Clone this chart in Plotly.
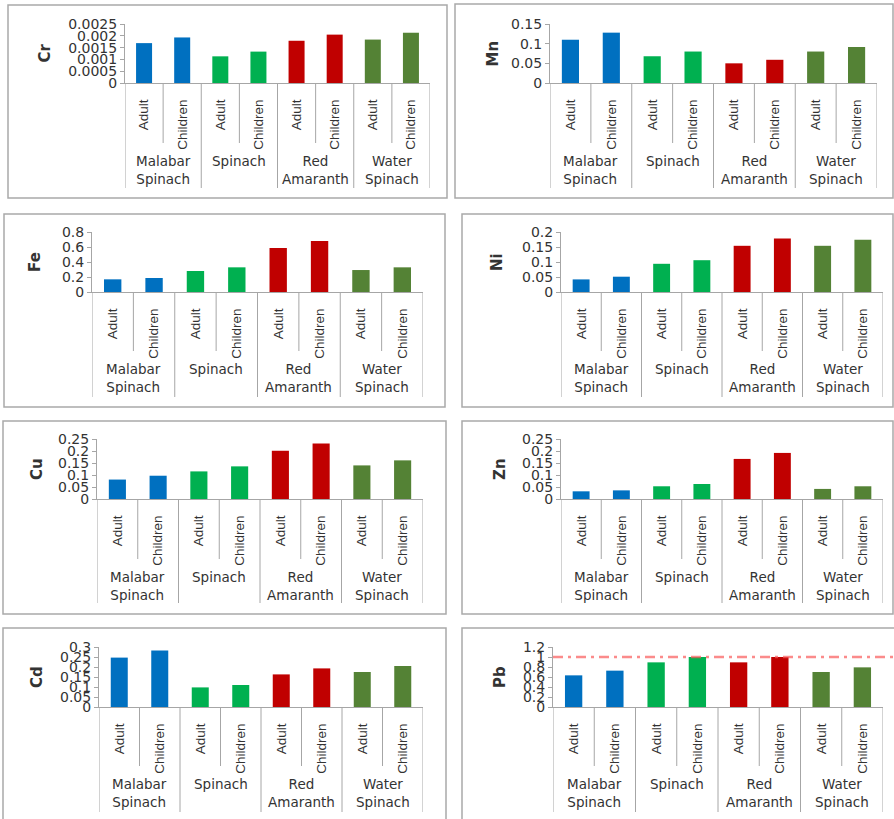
import plotly.graph_objects as go

W, H = 894, 819

# ---- data -------------------------------------------------------------
groups = ["Malabar Spinach", "Spinach", "Red Amaranth", "Water Spinach"]
group_text = ["Malabar<br>Spinach", "Spinach", "Red<br>Amaranth", "Water<br>Spinach"]
ages = ["Adult", "Children"]
group_colors = ["#0070C0", "#00B050", "#C00000", "#548235"]

metals = ["Cr", "Mn", "Fe", "Ni", "Cu", "Zn", "Cd", "Pb"]

cr = [0.00169, 0.00193, 0.00113, 0.00133, 0.00179, 0.00205, 0.00184, 0.00213]
mn = [0.110, 0.128, 0.068, 0.080, 0.050, 0.059, 0.080, 0.0915]
fe = [0.169, 0.187, 0.280, 0.329, 0.587, 0.680, 0.293, 0.329]
ni = [0.042, 0.051, 0.094, 0.106, 0.154, 0.178, 0.154, 0.174]
cu = [0.081, 0.097, 0.115, 0.136, 0.201, 0.231, 0.140, 0.161]
zn = [0.032, 0.036, 0.053, 0.0625, 0.167, 0.192, 0.042, 0.053]
cd = [0.247, 0.283, 0.098, 0.110, 0.163, 0.193, 0.175, 0.205]
pb = [0.633, 0.727, 0.893, 1.000, 0.893, 1.000, 0.700, 0.793]

y_max = [0.0025, 0.15, 0.8, 0.2, 0.25, 0.25, 0.3, 1.2]
y_step = [0.0005, 0.05, 0.2, 0.05, 0.05, 0.05, 0.05, 0.2]
pb_limit = 1.0

series = [cr, mn, fe, ni, cu, zn, cd, pb]

# ---- layout geometry (pixels) ------------------------------------------
panels = [
    dict(box=(8, 5, 447, 198), plot=(125, 430, 24, 83), tiers=(143, 188), tx=45),
    dict(box=(455, 4, 893, 198), plot=(550, 877, 24, 83), tiers=(143, 188), tx=493),
    dict(box=(4, 214, 445, 407), plot=(92, 423, 232, 292), tiers=(351, 397), tx=35),
    dict(box=(462, 214, 893, 407), plot=(561, 883, 232, 292), tiers=(351, 397), tx=497),
    dict(box=(3, 421, 446, 614), plot=(97, 423, 439, 499), tiers=(559, 603), tx=37),
    dict(box=(462, 421, 893, 614), plot=(561, 883, 439, 499), tiers=(559, 603), tx=500),
    dict(box=(3, 628, 446, 830), plot=(99, 423, 647, 707), tiers=(766, 812), tx=37),
    dict(box=(462, 628, 900, 830), plot=(553, 883, 647, 707), tiers=(766, 812), tx=500),
]

GRAY = "#A6A6A6"
TEXT = "#333333"
FONT = "DejaVu Sans"


def px(x):
    return x / W


def py(y):
    return 1 - y / H


categories = [f"{g}|{a}" for g in groups for a in ages]
cat_labels = [a for g in groups for a in ages]
bar_colors = [c for c in group_colors for _ in ages]

fig = go.Figure()
shapes = []
annotations = []
layout_axes = {}

for i, (metal, vals, p) in enumerate(zip(metals, series, panels)):
    n = "" if i == 0 else str(i + 1)
    xa, ya = f"x{n}", f"y{n}"
    xL, xR, yT, yZ = p["plot"]
    t1, t2 = p["tiers"]

    fig.add_trace(go.Bar(
        x=categories, y=vals, xaxis=xa, yaxis=ya,
        marker=dict(color=bar_colors, line=dict(width=0)),
        showlegend=False, hoverinfo="x+y",
    ))

    nt = int(round(y_max[i] / y_step[i]))
    tv = [round(k * y_step[i], 6) for k in range(nt + 1)]
    tt = [f"{v:g}" for v in tv]

    layout_axes[f"xaxis{n}"] = dict(
        domain=[px(xL), px(xR)], anchor=ya, type="category",
        categoryorder="array", categoryarray=categories,
        tickvals=categories, ticktext=cat_labels, tickangle=-90,
        tickfont=dict(family="Liberation Sans", size=13.5, color=TEXT),
        ticklabelstandoff=10, automargin=False,
        showline=True, linecolor=GRAY, linewidth=1, ticks="",
        showgrid=False, zeroline=False, range=[-0.5, 7.5], fixedrange=True,
    )
    layout_axes[f"yaxis{n}"] = dict(
        domain=[py(yZ), py(yT)], anchor=xa, range=[0, y_max[i]],
        tickvals=tv, ticktext=tt, automargin=False,
        tickfont=dict(family=FONT, size=14, color=TEXT),
        showline=True, linecolor=GRAY, linewidth=1,
        ticks="outside", ticklen=4, tickcolor=GRAY,
        showgrid=False, zeroline=False, fixedrange=True,
    )

    # panel frame
    bx0, by0, bx1, by1 = p["box"]
    shapes.append(dict(type="rect", xref="paper", yref="paper",
                       x0=px(bx0), x1=px(bx1), y0=py(by1), y1=py(by0),
                       line=dict(color="#A9A9A9", width=1.5), layer="below"))

    # category dividers: inner tier and outer (group) tier
    for k in range(len(groups)):
        shapes.append(dict(type="line", xref=xa, yref="paper",
                           x0=2 * k + 0.5, x1=2 * k + 0.5, y0=py(t1), y1=py(yZ),
                           line=dict(color=GRAY, width=1)))
    for k in range(len(groups) + 1):
        shapes.append(dict(type="line", xref=xa, yref="paper",
                           x0=2 * k - 0.5, x1=2 * k - 0.5, y0=py(t2), y1=py(yZ),
                           line=dict(color=GRAY, width=1)))

    # group names
    for k, gt in enumerate(group_text):
        annotations.append(dict(
            xref=xa, yref="paper", x=2 * k + 0.5, y=py(t1 + 8),
            xanchor="center", yanchor="top", text=gt, showarrow=False,
            align="center", font=dict(family=FONT, size=13.5, color=TEXT)))

    # metal title
    annotations.append(dict(
        xref="paper", yref="paper", x=px(p["tx"]), y=py((yT + yZ) / 2),
        xanchor="center", yanchor="middle", text=f"<b>{metal}</b>",
        textangle=-90, showarrow=False,
        font=dict(family=FONT, size=15, color=TEXT)))

# permissible limit line on the Pb panel
shapes.append(dict(type="line", xref="x8 domain", yref="y8",
                   x0=0, x1=(893 - 553) / (883 - 553), y0=pb_limit, y1=pb_limit,
                   line=dict(color="rgba(250,90,90,0.7)", width=2.5,
                             dash="10px,5px,3px,5px"),
                   layer="above"))

fig.update_layout(
    width=W, height=H,
    margin=dict(l=0, r=0, t=0, b=0, pad=0, autoexpand=False),
    paper_bgcolor="white", plot_bgcolor="white",
    bargap=0.58, showlegend=False,
    shapes=shapes, annotations=annotations,
    **layout_axes,
)

fig.write_html("out.html")
